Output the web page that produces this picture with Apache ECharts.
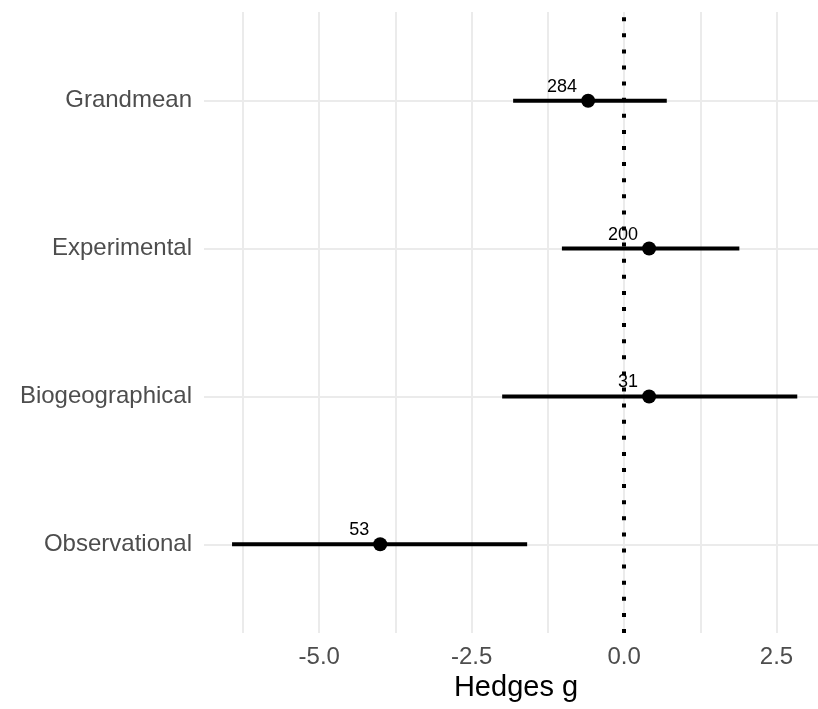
<!DOCTYPE html>
<html>
<head>
<meta charset="utf-8">
<script src="https://cdn.jsdelivr.net/npm/echarts@6/dist/echarts.min.js"></script>
<style>
html,body{margin:0;padding:0;background:#fff;}
#chart{width:818px;height:709px;}
</style>
</head>
<body>
<div id="chart"></div>
<script>
// categories listed bottom -> top
const categories = ['Observational', 'Biogeographical', 'Experimental', 'Grandmean'];
const estimates = [-4.0, 0.41, 0.41, -0.59];
const lowerCI = [-6.43, -2.0, -1.02, -1.82];
const upperCI = [-1.59, 2.84, 1.89, 0.70];
const counts = [53, 31, 200, 284];
const xTickLabels = [-5, -2.5, 0, 2.5];
const xMinorGrid = [-6.25, -3.75, -1.25, 1.25];
const catPos = [1, 2, 3, 4];

const FONT = '"Liberation Sans", Arial, sans-serif';
const GRIDC = '#EBEBEB';

const chart = echarts.init(document.getElementById('chart'), null, {renderer: 'canvas'});

const barData = categories.map((c, i) => [lowerCI[i], upperCI[i], catPos[i]]);
const pointData = categories.map((c, i) => [estimates[i], catPos[i], counts[i]]);

const option = {
  backgroundColor: '#fff',
  animation: false,
  grid: {left: 204, top: 12, right: 0, bottom: 76, containLabel: false},
  xAxis: {
    type: 'value', min: -6.89, max: 3.18,
    name: 'Hedges g', nameLocation: 'middle', nameGap: 40,
    nameTextStyle: {fontFamily: FONT, fontSize: 29, color: '#000', padding: [0, 0, 0, 10]},
    axisLine: {show: false}, axisTick: {show: false},
    splitLine: {show: false},
    axisLabel: {
      customValues: xTickLabels,
      formatter: v => Number(v).toFixed(1),
      fontFamily: FONT, fontSize: 24, color: '#4D4D4D', margin: 12
    }
  },
  yAxis: {
    type: 'value', min: 0.4, max: 4.6,
    axisLine: {show: false}, axisTick: {show: false},
    splitLine: {show: false},
    axisLabel: {
      customValues: catPos,
      formatter: v => categories[Math.round(v) - 1],
      fontFamily: FONT, fontSize: 24, color: '#4D4D4D', margin: 12
    }
  },
  series: [
    {
      type: 'line', data: [], z: 1, silent: true,
      markLine: {
        z: 1,
        silent: true, symbol: 'none', label: {show: false},
        animation: false,
        data: [
          ...catPos.map(v => ({yAxis: v, lineStyle: {color: GRIDC, width: 2, type: 'solid'}})),
          ...xTickLabels.map(v => ({xAxis: v, lineStyle: {color: GRIDC, width: 2, type: 'solid'}})),
          ...xMinorGrid.map(v => ({xAxis: v, lineStyle: {color: GRIDC, width: 2, type: 'solid'}}))
        ]
      }
    },
    {
      type: 'custom', z: 2, silent: true,
      data: barData,
      encode: {x: [0, 1], y: 2},
      renderItem: (params, api) => {
        const p1 = api.coord([api.value(0), api.value(2)]);
        const p2 = api.coord([api.value(1), api.value(2)]);
        return {
          type: 'line',
          shape: {x1: p1[0], y1: p1[1], x2: p2[0], y2: p2[1]},
          style: {stroke: '#000', lineWidth: 4, lineCap: 'butt'}
        };
      }
    },
    {
      type: 'scatter', z: 3, silent: true,
      data: pointData,
      symbol: 'circle', symbolSize: 14,
      itemStyle: {color: '#000', opacity: 1},
      label: {
        show: true,
        formatter: p => String(p.data[2]),
        position: [-4, -7], align: 'right', verticalAlign: 'middle',
        fontFamily: FONT, fontSize: 18, color: '#000'
      }
    },
    {
      type: 'line', data: [], z: 10, silent: true,
      markLine: {
        z: 10,
        silent: true, symbol: 'none', label: {show: false},
        animation: false,
        data: [{xAxis: 0}],
        lineStyle: {color: '#000', width: 4, type: [4, 12.1], cap: 'butt'}
      }
    }
  ]
};
chart.setOption(option);
</script>
</body>
</html>
